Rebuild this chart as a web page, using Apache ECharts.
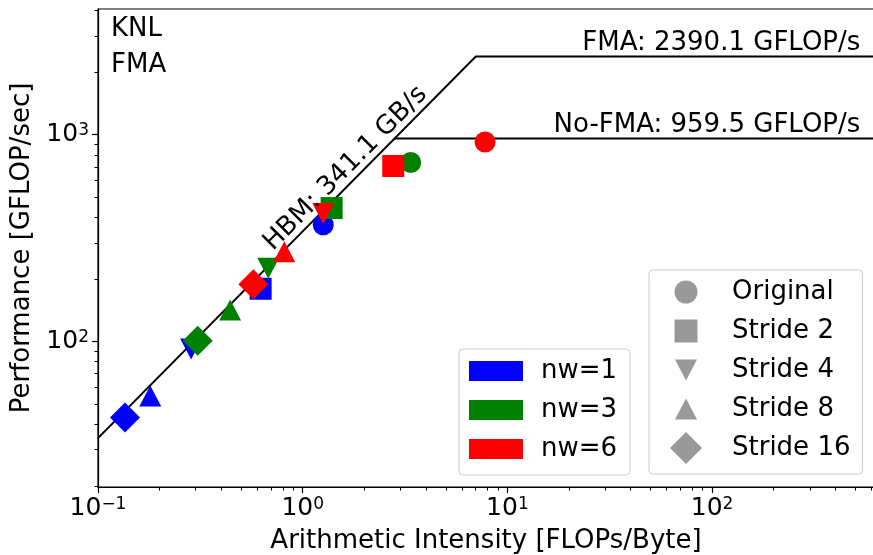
<!DOCTYPE html>
<html>
<head>
<meta charset="utf-8">
<script src="https://cdn.jsdelivr.net/npm/echarts@6/dist/echarts.min.js"></script>
<style>
  html, body { margin: 0; padding: 0; background: #ffffff; }
  #chart { width: 873px; height: 555px; }
</style>
</head>
<body>
<div id="chart"></div>
<script>
// Roofline of a KNL node: HBM bandwidth slope with FMA / No-FMA compute ceilings
const hbmBandwidth = 341.1;   // GB/s
const peakFMA = 2390.1;       // GFLOP/s
const peakNoFMA = 959.5;      // GFLOP/s

const variants = ['Original', 'Stride 2', 'Stride 4', 'Stride 8', 'Stride 16'];
const workers = ['nw=1', 'nw=3', 'nw=6'];

// arithmetic intensity [FLOPs/Byte] and performance [GFLOP/s], ordered like `variants`
const intensityNw1 = [1.26, 0.623, 0.285, 0.180, 0.1355];
const perfNw1      = [367, 180, 92, 54.6, 42.9];
const intensityNw3 = [3.37, 1.385, 0.679, 0.442, 0.307];
const perfNw3      = [734, 442, 226, 142, 101];
const intensityNw6 = [7.78, 2.77, 1.26, 0.813, 0.574];
const perfNw6      = [922, 706, 416, 272, 189.5];

const xTickValues = [0.1, 1, 10, 100];
const yTickValues = [100, 1000];

const FONT = 'DejaVu Sans';
const workerColors = ['#0000ff', '#008000', '#ff0000'];
const markerGray = '#808080';

const X_MIN = 0.1, X_MAX = 618;
const Y_MIN = 19.8, Y_MAX = 4055;

// marker per variant: symbol, size, rotation
const markers = [
  { symbol: 'circle',   size: 21,       rotate: 0 },
  { symbol: 'rect',     size: 22,       rotate: 0 },
  { symbol: 'triangle', size: [22, 21], rotate: 180 },
  { symbol: 'triangle', size: [22, 21], rotate: 0 },
  { symbol: 'diamond',  size: 30,       rotate: 0 }
];

// legend glyphs drawn inside a fixed 32x32 frame (corner stubs keep the frame size)
const FRAME = 'M0 0L0 0M32 32L32 32';
const legendGlyphs = [
  'path://' + FRAME + 'M4.5 16A11.5 11.5 0 1 0 27.5 16A11.5 11.5 0 1 0 4.5 16Z',
  'path://' + FRAME + 'M4.5 4.5L27.5 4.5L27.5 27.5L4.5 27.5Z',
  'path://' + FRAME + 'M5 5.5L27 5.5L16 26.5Z',
  'path://' + FRAME + 'M16 5.5L27 26.5L5 26.5Z',
  'path://' + FRAME + 'M16 0L32 16L16 32L0 16Z'
];

// minor ticks at 2..9 of every decade inside the axis range
function minorTicks(lo, hi) {
  const out = [];
  for (let d = Math.floor(Math.log10(lo)); d <= Math.ceil(Math.log10(hi)); d++) {
    for (let m = 2; m <= 9; m++) {
      const v = m * Math.pow(10, d);
      if (v > lo && v < hi) out.push(v);
    }
  }
  return out;
}

function powerLabel(value) {
  const e = Math.round(Math.log10(value));
  return '{b|10}{s|' + String(e).replace('-', '\u2212') + '}';
}

const tickRich = {
  b: { fontSize: 25, fontFamily: FONT, color: '#000' },
  s: { fontSize: 17, fontFamily: FONT, color: '#000', verticalAlign: 'top' }
};

const axisLine = { show: true, lineStyle: { color: '#000', width: 1.2 } };

function pointsFor(xs, ys) {
  return xs.map((x, i) => ({
    value: [x, ys[i]],
    symbol: markers[i].symbol,
    symbolSize: markers[i].size,
    symbolRotate: markers[i].rotate
  }));
}

const intensities = [intensityNw1, intensityNw3, intensityNw6];
const perfs = [perfNw1, perfNw3, perfNw6];

// annotation text attached to anchor points on the roofline
const roofText = {
  show: true, position: [0, 0], fontSize: 26, fontFamily: FONT,
  color: '#000000', opacity: 1, textBorderWidth: 0, textShadowBlur: 0
};

const series = [
  {
    name: 'roofFMA',
    type: 'line',
    data: [
      [X_MIN, hbmBandwidth * X_MIN],
      [peakFMA / hbmBandwidth, peakFMA],
      [X_MAX, peakFMA]
    ],
    symbol: 'none',
    lineStyle: { color: '#000', width: 2 },
    silent: true,
    z: 1
  },
  {
    name: 'roofNoFMA',
    type: 'line',
    data: [
      [peakNoFMA / hbmBandwidth, peakNoFMA],
      [X_MAX, peakNoFMA]
    ],
    symbol: 'none',
    lineStyle: { color: '#000', width: 2 },
    silent: true,
    z: 1
  },
  {
    name: 'roofLabels',
    type: 'scatter',
    silent: true,
    symbol: 'circle',
    symbolSize: 1,
    itemStyle: { color: 'transparent' },
    emphasis: { disabled: true },
    z: 3,
    data: [
      {
        value: [0.758, hbmBandwidth * 0.758],
        label: Object.assign({}, roofText, {
          align: 'left', verticalAlign: 'bottom', rotate: 45.3,
          formatter: 'HBM: ' + hbmBandwidth.toFixed(1) + ' GB/s'
        })
      },
      {
        value: [533, peakFMA],
        label: Object.assign({}, roofText, {
          align: 'right', verticalAlign: 'bottom',
          formatter: 'FMA: ' + peakFMA.toFixed(1) + ' GFLOP/s'
        })
      },
      {
        value: [533, peakNoFMA],
        label: Object.assign({}, roofText, {
          align: 'right', verticalAlign: 'bottom',
          formatter: 'No-FMA: ' + peakNoFMA.toFixed(1) + ' GFLOP/s'
        })
      }
    ]
  }
];

workers.forEach((w, k) => {
  series.push({
    name: w,
    type: 'scatter',
    itemStyle: { color: workerColors[k], opacity: 1 },
    data: pointsFor(intensities[k], perfs[k]),
    z: 2 + k * 0.01
  });
});

variants.forEach(v => {
  series.push({ name: v, type: 'scatter', data: [], itemStyle: { color: markerGray } });
});

const legendBox = {
  orient: 'vertical',
  selectedMode: false,
  backgroundColor: 'rgba(255,255,255,0.8)',
  borderColor: '#cccccc',
  borderWidth: 1,
  borderRadius: 4
};

const option = {
  animation: false,
  backgroundColor: '#ffffff',
  title: {
    text: 'KNL\nFMA',
    left: 111,
    top: 11,
    padding: 0,
    textStyle: { fontFamily: FONT, fontSize: 26, fontWeight: 'normal', color: '#000', lineHeight: 36 }
  },
  grid: {
    left: 98, right: -1, top: 9, bottom: 68,
    outerBoundsMode: 'none',
    containLabel: false,
    show: true, borderColor: '#000', borderWidth: 1.2, backgroundColor: 'transparent'
  },
  legend: [
    Object.assign({}, legendBox, {
      left: 459, top: 349,
      padding: [9, 13, 13, 10],
      itemGap: 13,
      itemWidth: 54, itemHeight: 20,
      textStyle: { fontFamily: FONT, fontSize: 26, color: '#000', padding: [0, 0, 0, 13] },
      data: workers.map(w => ({ name: w, icon: 'rect' }))
    }),
    Object.assign({}, legendBox, {
      left: 649, top: 270,
      padding: [6, 12, 10, 21],
      itemGap: 7,
      itemWidth: 32, itemHeight: 32,
      textStyle: { fontFamily: FONT, fontSize: 26, color: '#000', padding: [0, 0, 0, 25] },
      data: variants.map((v, i) => ({ name: v, icon: legendGlyphs[i] }))
    })
  ],
  xAxis: [
    {
      type: 'log', logBase: 10, min: X_MIN, max: X_MAX,
      name: 'Arithmetic Intensity [FLOPs/Byte]',
      nameLocation: 'middle', nameGap: 41,
      nameTextStyle: { fontFamily: FONT, fontSize: 26, color: '#000' },
      axisLine: axisLine,
      axisTick: { show: true, inside: false, length: 6, lineStyle: { color: '#000', width: 1.2 }, customValues: xTickValues },
      axisLabel: { margin: 9, formatter: powerLabel, rich: tickRich, customValues: xTickValues },
      splitLine: { show: false }
    },
    {
      type: 'log', logBase: 10, min: X_MIN, max: X_MAX, position: 'bottom',
      axisLine: { show: false },
      axisTick: { show: true, inside: false, length: 3.5, lineStyle: { color: '#000', width: 1 }, customValues: minorTicks(X_MIN, X_MAX) },
      axisLabel: { show: false },
      splitLine: { show: false }
    }
  ],
  yAxis: [
    {
      type: 'log', logBase: 10, min: Y_MIN, max: Y_MAX,
      name: 'Performance [GFLOP/sec]',
      nameLocation: 'middle', nameGap: 61,
      nameTextStyle: { fontFamily: FONT, fontSize: 26, color: '#000' },
      axisLine: axisLine,
      axisTick: { show: true, inside: false, length: 6, lineStyle: { color: '#000', width: 1.2 }, customValues: yTickValues },
      axisLabel: { margin: 9, formatter: powerLabel, rich: tickRich, customValues: yTickValues },
      splitLine: { show: false }
    },
    {
      type: 'log', logBase: 10, min: Y_MIN, max: Y_MAX, position: 'left',
      axisLine: { show: false },
      axisTick: { show: true, inside: false, length: 3.5, lineStyle: { color: '#000', width: 1 }, customValues: minorTicks(Y_MIN, Y_MAX) },
      axisLabel: { show: false },
      splitLine: { show: false }
    }
  ],
  series: series
};

const chart = echarts.init(document.getElementById('chart'), null, { renderer: 'canvas' });
chart.setOption(option);
</script>
</body>
</html>
